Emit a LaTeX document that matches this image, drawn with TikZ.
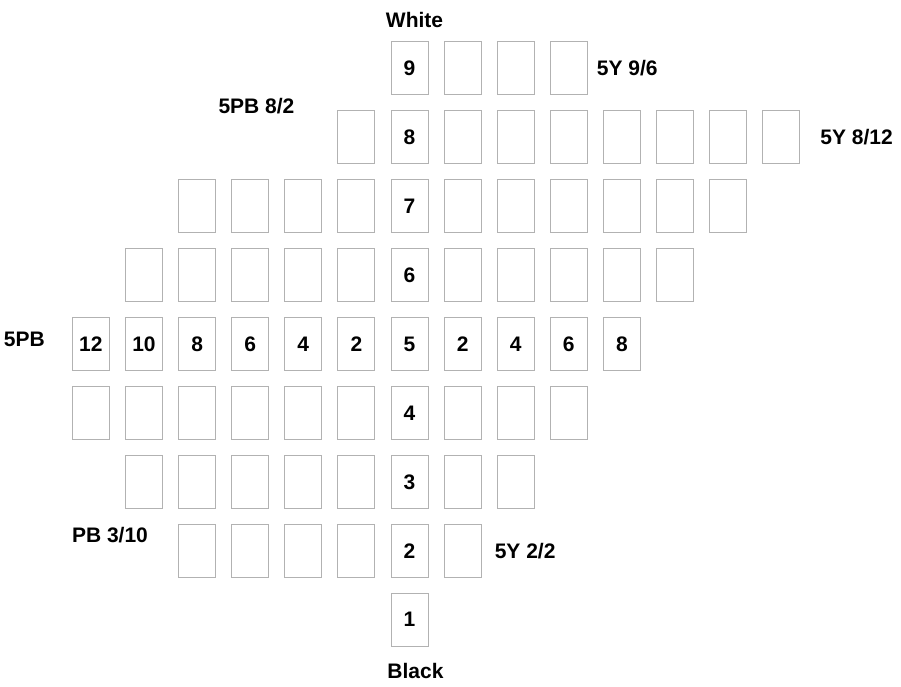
\documentclass[tikz,border=0pt]{standalone}
\usepackage{fontspec}
\setmainfont{Liberation Sans}
\usetikzlibrary{positioning}
\tikzset{
  chip/.style={draw=gray!60, line width=0.9pt, minimum width=37pt, minimum height=53pt, inner sep=0pt, font=\fontsize{21}{21}\selectfont\bfseries},
  lbl/.style={font=\fontsize{21}{21}\selectfont\bfseries, inner sep=0pt, text height=15pt, text depth=0pt},
}
\begin{document}
\begin{tikzpicture}[x=1pt, y=-1pt]
\useasboundingbox (0,0) rectangle (901,686);
% value rows: row / first column / last column
\foreach \r/\lo/\hi in {9/6/9, 8/5/13, 7/2/12, 6/1/11, 5/0/10, 4/0/9, 3/1/8, 2/2/7, 1/6/6}{
  \foreach \i in {\lo,...,\hi}{
    \pgfmathtruncatemacro{\chroma}{2*abs(\i-6)}
    \ifnum\i=6 \edef\txt{\r}\else\ifnum\r=5 \edef\txt{\chroma}\else\def\txt{}\fi\fi
    \node[chip] (c\r-\i) at ({409.5+53.1*(\i-6)},{344+(5-\r)*68.9}) {\txt};
  }
}
\node[lbl, above=14pt of c9-6, xshift=5pt] (white) {White};
\node[lbl, below=17pt of c1-6, xshift=6pt] (black) {Black};
\node[lbl, right=9pt of c9-9] (y96) {5Y 9/6};
\node[lbl, right=20pt of c8-13] (y812) {5Y 8/12};
\node[lbl, right=13pt of c2-7] (y22) {5Y 2/2};
\node[lbl, left=27pt of c5-0, yshift=5pt] (pb) {5PB};
\node[lbl] (pb82) at (256.5,105.5) {5PB 8/2};
\node[lbl] (pb310) at (110,534.5) {PB 3/10};
\end{tikzpicture}
\end{document}
